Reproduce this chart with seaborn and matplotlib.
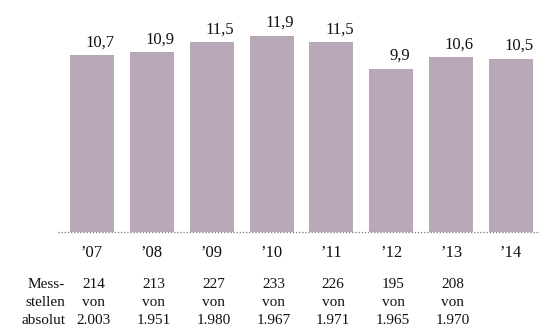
import pandas as pd
import seaborn as sns
import matplotlib.pyplot as plt
import matplotlib.transforms as mtransforms

# Data
years = ['’07', '’08', '’09', '’10', '’11', '’12', '’13', '’14']
values = [10.7, 10.9, 11.5, 11.9, 11.5, 9.9, 10.6, 10.5]
value_labels = ['10,7', '10,9', '11,5', '11,9', '11,5', '9,9', '10,6', '10,5']
stations = ['214', '213', '227', '233', '226', '195', '208', '']
totals = ['2.003', '1.951', '1.980', '1.967', '1.971', '1.965', '1.970', '']
row_label = ['Mess-', 'stellen', 'absolut']

BAR_COLOR = '#b9a8b7'
TXT = '#111111'

df = pd.DataFrame({'year': years, 'value': values})

sns.set_style('white')
plt.rcParams['font.family'] = ['Liberation Serif', 'DejaVu Serif']

fig = plt.figure(figsize=(5.4, 3.29), dpi=100)
ax = fig.add_axes([0.1074, 0.2948, 0.8926, 0.7052])

sns.barplot(data=df, x='year', y='value', color=BAR_COLOR, saturation=1,
            width=0.735, linewidth=0, ax=ax, zorder=2)

ax.set_xlim(-0.568, 7.484)
ax.set_ylim(0, 14.06)
ax.axhline(0, color='#777777', linestyle=(0, (1, 1.5)), linewidth=0.9,
           zorder=3, clip_on=False)

# value labels above the bars
for i, (v, lab) in enumerate(zip(values, value_labels)):
    ax.annotate(lab, (i, v), xytext=(6, 3.5), textcoords='offset points',
                ha='center', va='bottom', fontsize=12, color=TXT)

ax.set_xlabel('')
ax.set_ylabel('')
ax.set_yticks([])
ax.tick_params(axis='x', length=0, pad=9, labelsize=12, colors=TXT)
for s in ax.spines.values():
    s.set_visible(False)

# measurement stations table below the axis
rows_y = [1 - 285 / 329, 1 - 303 / 329, 1 - 321 / 329]
trans = mtransforms.blended_transform_factory(ax.transData, fig.transFigure)
for i, (a, b) in enumerate(zip(stations, totals)):
    if not a:
        continue
    for txt, y in zip([a, 'von', b], rows_y):
        ax.text(i + 0.03, y, txt, transform=trans, ha='center', va='center',
                fontsize=11, color=TXT)

for txt, y in zip(row_label, rows_y):
    fig.text(65 / 540, y, txt, ha='right', va='center', fontsize=11, color=TXT)

fig.savefig('out.png', dpi=100)
